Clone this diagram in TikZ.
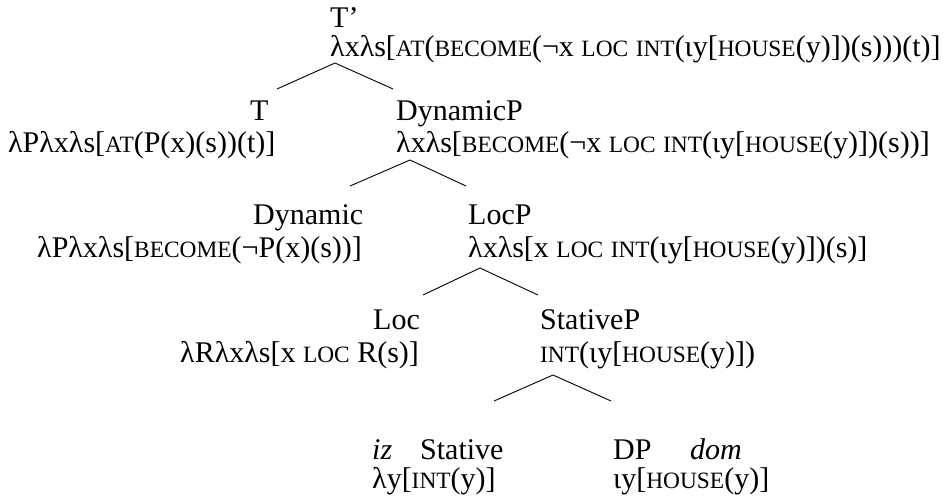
\documentclass[tikz,border=0pt]{standalone}
\usepackage{fontspec}
\setmainfont{Liberation Serif}
% reduced capitals standing in for small caps
\newcommand\smc[1]{{\fontsize{23.4}{28}\selectfont #1}}
\begin{document}
\begin{tikzpicture}[x=1pt,y=-1pt,
  lbl/.style={anchor=base west, inner sep=0pt, font=\fontsize{30}{36}\selectfont},
  branch/.style={line width=0.9pt}]
\useasboundingbox (0,0) rectangle (945,497);

% root
\node[lbl] (tbar) at (330,28) {T’};
\node[lbl] (tbarsem) at (330,57) {λxλs[\smc{AT}(\smc{BECOME}(¬x \smc{LOC} \smc{INT}(ιy[\smc{HOUSE}(y)])(s)))(t)]};
\coordinate (a1) at (335,63);
\coordinate (a1l) at (277,89);
\coordinate (a1r) at (393,89);
\draw[branch] (a1l) -- (a1) -- (a1r);

% T and DynamicP
\node[lbl] (t) at (250,121) {T};
\node[lbl] (tsem) at (8,153) {λPλxλs[\smc{AT}(P(x)(s))(t)]};
\node[lbl] (dynp) at (396,121) {DynamicP};
\node[lbl] (dynpsem) at (396,153) {λxλs[\smc{BECOME}(¬x \smc{LOC} \smc{INT}(ιy[\smc{HOUSE}(y)])(s))]};
\coordinate (a2) at (410,160);
\coordinate (a2l) at (350,186);
\coordinate (a2r) at (466,186);
\draw[branch] (a2l) -- (a2) -- (a2r);

% Dynamic and LocP
\node[lbl] (dyn) at (253,225) {Dynamic};
\node[lbl] (dynsem) at (37,257) {λPλxλs[\smc{BECOME}(¬P(x)(s))]};
\node[lbl] (locp) at (468,225) {LocP};
\node[lbl] (locpsem) at (468,257) {λxλs[x \smc{LOC} \smc{INT}(ιy[\smc{HOUSE}(y)])(s)]};
\coordinate (a3) at (480,268);
\coordinate (a3l) at (423,295);
\coordinate (a3r) at (538,295);
\draw[branch] (a3l) -- (a3) -- (a3r);

% Loc and StativeP
\node[lbl] (loc) at (373,329) {Loc};
\node[lbl] (locsem) at (180,362) {λRλxλs[x \smc{LOC} R(s)]};
\node[lbl] (statp) at (540,329) {StativeP};
\node[lbl] (statpsem) at (540,362) {\smc{INT}(ιy[\smc{HOUSE}(y)])};
\coordinate (a4) at (553,375);
\coordinate (a4l) at (494,401);
\coordinate (a4r) at (611,401);
\draw[branch] (a4l) -- (a4) -- (a4r);

% Stative and DP
\node[lbl] (iz) at (372,459) {\textit{iz}};
\node[lbl] (stat) at (420,459) {Stative};
\node[lbl] (statsem) at (372,488) {λy[\smc{INT}(y)]};
\node[lbl] (dp) at (613,459) {DP};
\node[lbl] (dom) at (690,459) {\textit{dom}};
\node[lbl] (dpsem) at (613,488) {ιy[\smc{HOUSE}(y)]};
\end{tikzpicture}
\end{document}
